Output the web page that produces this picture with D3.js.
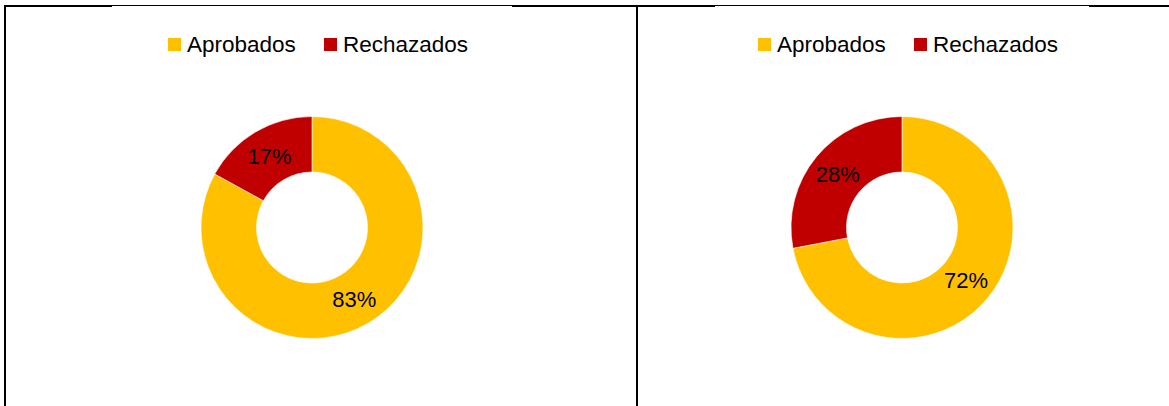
<!DOCTYPE html>
<html>
<head>
<meta charset="utf-8">
<script src="https://cdn.jsdelivr.net/npm/d3@7"></script>
<style>
  body { margin: 0; background: #fff; }
  svg { display: block; }
  text { font-family: "Liberation Sans", Arial, sans-serif; fill: #000; }
</style>
</head>
<body>
<script>
// series data
const categories = ['Aprobados', 'Rechazados'];
const panelA = [83, 17];
const panelB = [72, 28];
const panels = [panelA, panelB];
const colors = ['#FFC000', '#C00000'];

const width = 1169;
const height = 406;

const svg = d3.select('body').append('svg')
  .attr('width', width)
  .attr('height', height);

// page/table borders
svg.append('line').attr('x1', 4).attr('x2', width).attr('y1', 5.5).attr('y2', 5.5)
  .attr('stroke', '#000').attr('stroke-width', 1);
[[4, 112], [512, 715], [1089, 1169]].forEach(s => {
  svg.append('line').attr('x1', s[0]).attr('x2', s[1]).attr('y1', 6).attr('y2', 6)
    .attr('stroke', '#000').attr('stroke-width', 2);
});
[5, 637].forEach(x => {
  svg.append('line').attr('x1', x).attr('x2', x).attr('y1', 5).attr('y2', height)
    .attr('stroke', '#000').attr('stroke-width', 2);
});

const color = d3.scaleOrdinal().domain(categories).range(colors);

// panel positions
const centers = d3.scalePoint().domain([0, 1]).range([312, 902]);
const cy = 227.5;
const outerR = 111;
const innerR = 55.5;

const pie = d3.pie().sort(null).value(d => d.value);
const arc = d3.arc().innerRadius(innerR).outerRadius(outerR);

panels.forEach((vals, i) => {
  const data = categories.map((c, k) => ({ category: c, value: vals[k] }));
  const g = svg.append('g')
    .attr('transform', `translate(${centers(i)},${cy})`);

  g.selectAll('path')
    .data(pie(data))
    .enter().append('path')
    .attr('d', arc)
    .attr('fill', d => color(d.data.category))
    .attr('stroke', '#fff')
    .attr('stroke-width', 0.6);

  g.selectAll('text.lbl')
    .data(pie(data))
    .enter().append('text')
    .attr('class', 'lbl')
    .attr('x', d => arc.centroid(d)[0])
    .attr('y', d => arc.centroid(d)[1])
    .attr('dy', '0.36em')
    .attr('text-anchor', 'middle')
    .style('font-size', '22px')
    .text(d => d.data.value + '%');

  // legend
  const leg = svg.append('g')
    .attr('transform', `translate(${centers(i) - 144},0)`);
  const offs = [0, 156];
  categories.forEach((c, k) => {
    leg.append('rect')
      .attr('x', offs[k]).attr('y', 38)
      .attr('width', 13).attr('height', 13)
      .attr('fill', color(c));
    leg.append('text')
      .attr('x', offs[k] + 19).attr('y', 52)
      .style('font-size', '22.5px')
      .text(c);
  });
});
</script>
</body>
</html>
